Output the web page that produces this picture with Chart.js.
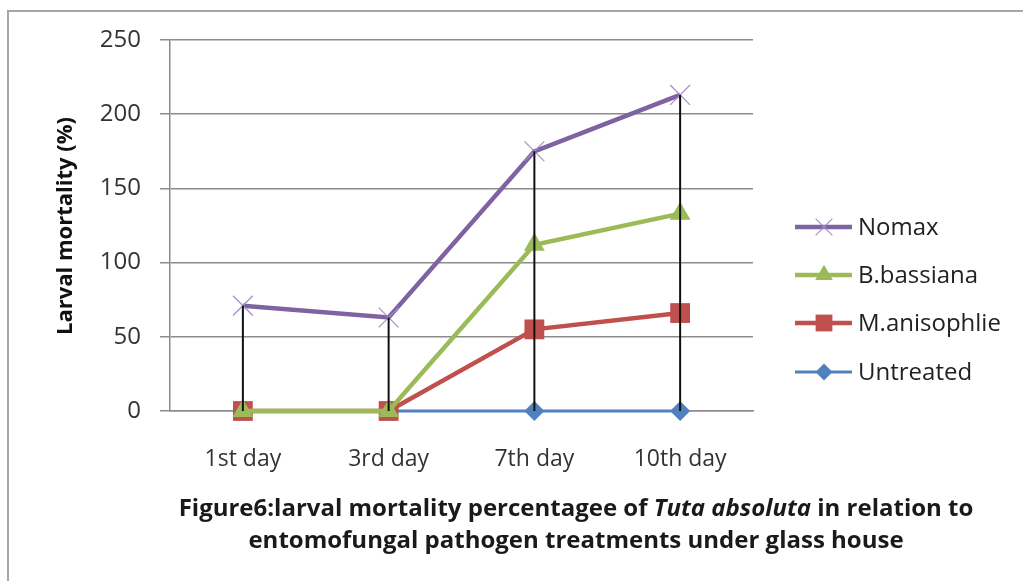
<!DOCTYPE html>
<html>
<head>
<meta charset="utf-8">
<script src="https://cdn.jsdelivr.net/npm/chart.js@4.4.1/dist/chart.umd.min.js"></script>
<style>
  body { margin: 0; background: #fff; }
  #wrap { position: relative; width: 1023px; height: 581px; overflow: hidden; }
  #frame { position: absolute; left: 7px; top: 10px; width: 1100px; height: 700px; border: 2px solid #a6a6a6; }
  #chart { position: absolute; left: 0; top: 0; }
  #caption { position: absolute; left: 0; top: 491px; width: 1152px; text-align: center;
             font: bold 24px "Open Sans", sans-serif; line-height: 32px; color: #1a1a1a; }
</style>
</head>
<body>
<div id="wrap">
  <div id="frame"></div>
  <canvas id="chart" width="1023" height="581"></canvas>
  <div id="caption">Figure6:larval mortality percentagee of <i>Tuta absoluta</i> in relation to<br>entomofungal pathogen treatments under glass house</div>
</div>
<script>
// datos (valores tal como aparecen, lineas apiladas)
const categories = ["1st day", "3rd day", "7th day", "10th day"];
const nomax = [71, 63, 175, 213];
const bBassiana = [0, 0, 112, 133];
const mAnisophlie = [0, 0, 55, 66];
const untreated = [0, 0, 0, 0];
const yTicks = [0, 50, 100, 150, 200, 250];

const FONT = "Open Sans";
const TXT = "#333333";
const GRID = "#8c8c8c";

// lineas verticales desde el punto mas alto hasta el eje
const dropLines = {
  id: "dropLines",
  afterDatasetsDraw(chart) {
    const ctx = chart.ctx;
    const x = chart.scales.x, y = chart.scales.y;
    ctx.save();
    ctx.strokeStyle = "#111";
    ctx.lineWidth = 2;
    categories.forEach((c, i) => {
      let top = 0;
      chart.data.datasets.forEach(ds => { top = Math.max(top, ds.data[i]); });
      const px = x.getPixelForValue(i);
      ctx.beginPath();
      ctx.moveTo(px, y.getPixelForValue(top));
      ctx.lineTo(px, y.getPixelForValue(0));
      ctx.stroke();
    });
    ctx.restore();
  }
};

// leyenda estilo Excel y titulo del eje Y
const extras = {
  id: "extras",
  afterDraw(chart) {
    const ctx = chart.ctx;
    ctx.save();
    const rows = [227, 275, 323, 372];
    chart.data.datasets.forEach((ds, i) => {
      const ry = rows[i];
      ctx.strokeStyle = ds.borderColor;
      ctx.lineWidth = ds.borderWidth;
      ctx.beginPath();
      ctx.moveTo(795, ry);
      ctx.lineTo(852, ry);
      ctx.stroke();
      ctx.fillStyle = ds.pointBackgroundColor;
      ctx.strokeStyle = ds.pointBorderColor;
      ctx.lineWidth = ds.pointBorderWidth;
      Chart.helpers.drawPoint(ctx, {
        pointStyle: ds.pointStyle, radius: ds.pointRadius * 0.85, rotation: 0, borderWidth: ds.pointBorderWidth
      }, 824, ry);
      ctx.fillStyle = "#222";
      ctx.font = "24px " + FONT;
      ctx.textBaseline = "middle";
      ctx.textAlign = "left";
      ctx.fillText(ds.label, 858, ry + 1);
    });
    ctx.translate(66, 226);
    ctx.rotate(-Math.PI / 2);
    ctx.font = "bold 22px " + FONT;
    ctx.fillStyle = "#111";
    ctx.textAlign = "center";
    ctx.textBaseline = "middle";
    ctx.fillText("Larval mortality (%)", 0, 0);
    ctx.restore();
  }
};

const ctx = document.getElementById("chart").getContext("2d");

new Chart(ctx, {
  type: "line",
  data: {
    labels: categories,
    datasets: [
      {
        label: "Nomax",
        data: nomax,
        borderColor: "#7e62a1",
        borderWidth: 4.5,
        pointStyle: "crossRot",
        pointRadius: 14,
        pointBorderWidth: 1.2,
        pointBorderColor: "#a48fc8",
        pointBackgroundColor: "#a48fc8",
      },
      {
        label: "B.bassiana",
        data: bBassiana,
        borderColor: "#9bbb59",
        borderWidth: 4.5,
        pointStyle: "triangle",
        pointRadius: 12,
        pointBorderWidth: 0,
        pointBorderColor: "#9bbb59",
        pointBackgroundColor: "#9bbb59",
      },
      {
        label: "M.anisophlie",
        data: mAnisophlie,
        borderColor: "#c0504d",
        borderWidth: 4.5,
        pointStyle: "rect",
        pointRadius: 14,
        pointBorderWidth: 0,
        pointBorderColor: "#c0504d",
        pointBackgroundColor: "#c0504d",
      },
      {
        label: "Untreated",
        data: untreated,
        borderColor: "#4f81bd",
        borderWidth: 3,
        pointStyle: "rectRot",
        pointRadius: 10,
        pointBorderWidth: 0,
        pointBorderColor: "#4f81bd",
        pointBackgroundColor: "#4f81bd",
      },
    ],
  },
  options: {
    responsive: false,
    animation: false,
    layout: { padding: { left: 0, top: 40, right: 270, bottom: 0 } },
    plugins: { legend: { display: false }, tooltip: { enabled: false } },
    elements: { line: { tension: 0 } },
    datasets: { line: { clip: false } },
    scales: {
      x: {
        offset: true,
        grid: { display: false },
        border: { display: true, color: GRID, width: 1.5 },
        ticks: { color: TXT, padding: 27, font: { family: FONT, size: 23 } },
        afterFit(s) { s.height = 170; },
      },
      y: {
        min: 0,
        max: 250,
        afterBuildTicks(s) { s.ticks = yTicks.map(v => ({ value: v })); },
        grid: { color: GRID, lineWidth: 1.5, tickLength: 10 },
        border: { display: true, color: GRID, width: 1.5 },
        ticks: { color: TXT, padding: 19, font: { family: FONT, size: 24 } },
        afterFit(s) { s.width = 170; },
      },
    },
  },
  plugins: [dropLines, extras],
});
</script>
</body>
</html>
